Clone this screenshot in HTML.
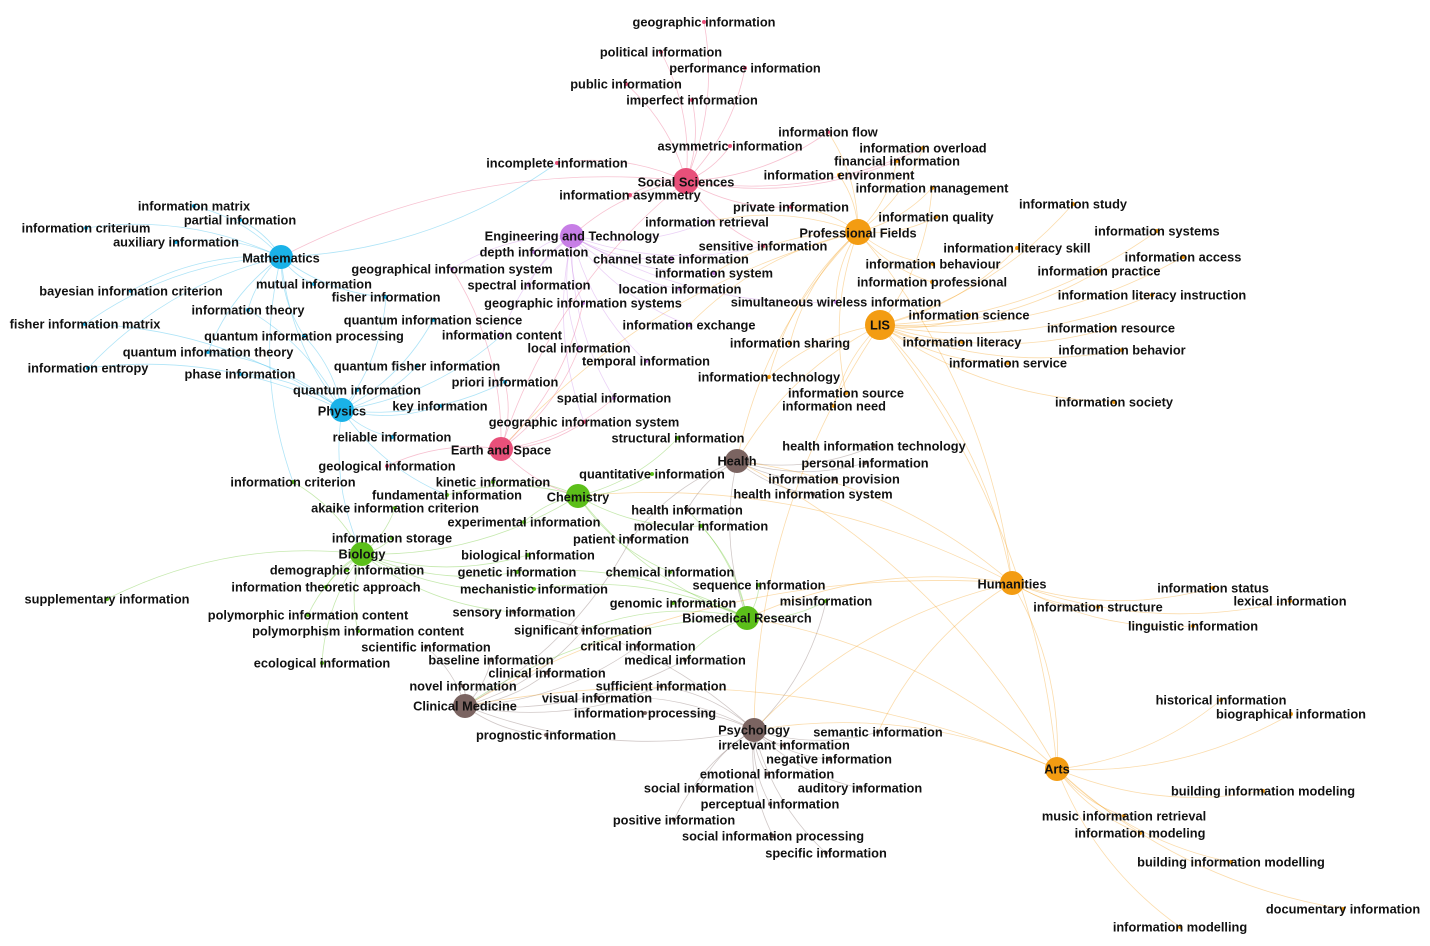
<!DOCTYPE html>
<html><head><meta charset="utf-8"><style>
html,body{margin:0;padding:0;background:#fff;}
svg{display:block;}
text{font-family:"Liberation Sans",Arial,sans-serif;font-weight:bold;font-size:12.8px;fill:#111;text-anchor:middle;dominant-baseline:central;}
</style></head><body>
<svg id="s" width="1430" height="946" viewBox="0 0 1430 946" xmlns="http://www.w3.org/2000/svg">
<g id="edges" fill="none" stroke-width="0.8"></g>
<g id="nodes"></g>
<g id="labels">
<text x="704" y="22">geographic information</text>
<text x="661" y="52">political information</text>
<text x="745" y="68">performance information</text>
<text x="626" y="84">public information</text>
<text x="692" y="100">imperfect information</text>
<text x="828" y="132">information flow</text>
<text x="730" y="146">asymmetric information</text>
<text x="923" y="148">information overload</text>
<text x="897" y="161">financial information</text>
<text x="557" y="163">incomplete information</text>
<text x="839" y="175">information environment</text>
<text x="686" y="182">Social Sciences</text>
<text x="932" y="188">information management</text>
<text x="630" y="195">information asymmetry</text>
<text x="791" y="207">private information</text>
<text x="1073" y="204">information study</text>
<text x="194" y="206">information matrix</text>
<text x="240" y="220">partial information</text>
<text x="86" y="228">information criterium</text>
<text x="176" y="242">auxiliary information</text>
<text x="281" y="258">Mathematics</text>
<text x="131" y="291">bayesian information criterion</text>
<text x="248" y="310">information theory</text>
<text x="85" y="324">fisher information matrix</text>
<text x="936" y="217">information quality</text>
<text x="707" y="222">information retrieval</text>
<text x="1157" y="231">information systems</text>
<text x="572" y="236">Engineering and Technology</text>
<text x="858" y="233">Professional Fields</text>
<text x="1017" y="248">information literacy skill</text>
<text x="763" y="246">sensitive information</text>
<text x="534" y="252">depth information</text>
<text x="1183" y="257">information access</text>
<text x="671" y="259">channel state information</text>
<text x="933" y="264">information behaviour</text>
<text x="452" y="269">geographical information system</text>
<text x="714" y="273">information system</text>
<text x="1099" y="271">information practice</text>
<text x="932" y="282">information professional</text>
<text x="314" y="284">mutual information</text>
<text x="529" y="285">spectral information</text>
<text x="680" y="289">location information</text>
<text x="386" y="297">fisher information</text>
<text x="1152" y="295">information literacy instruction</text>
<text x="583" y="303">geographic information systems</text>
<text x="836" y="302">simultaneous wireless information</text>
<text x="969" y="315">information science</text>
<text x="433" y="320">quantum information science</text>
<text x="1111" y="328">information resource</text>
<text x="689" y="325">information exchange</text>
<text x="880" y="325">LIS</text>
<text x="502" y="335">information content</text>
<text x="304" y="336">quantum information processing</text>
<text x="962" y="342">information literacy</text>
<text x="579" y="348">local information</text>
<text x="790" y="343">information sharing</text>
<text x="1122" y="350">information behavior</text>
<text x="208" y="352">quantum information theory</text>
<text x="1008" y="363">information service</text>
<text x="646" y="361">temporal information</text>
<text x="417" y="366">quantum fisher information</text>
<text x="88" y="368">information entropy</text>
<text x="240" y="374">phase information</text>
<text x="769" y="377">information technology</text>
<text x="505" y="382">priori information</text>
<text x="357" y="390">quantum information</text>
<text x="846" y="393">information source</text>
<text x="614" y="398">spatial information</text>
<text x="834" y="406">information need</text>
<text x="1114" y="402">information society</text>
<text x="440" y="406">key information</text>
<text x="342" y="411">Physics</text>
<text x="584" y="422">geographic information system</text>
<text x="392" y="437">reliable information</text>
<text x="678" y="438">structural information</text>
<text x="874" y="446">health information technology</text>
<text x="501" y="450">Earth and Space</text>
<text x="387" y="466">geological information</text>
<text x="737" y="461">Health</text>
<text x="865" y="463">personal information</text>
<text x="652" y="474">quantitative information</text>
<text x="493" y="482">kinetic information</text>
<text x="293" y="482">information criterion</text>
<text x="834" y="479">information provision</text>
<text x="447" y="495">fundamental information</text>
<text x="578" y="497">Chemistry</text>
<text x="813" y="494">health information system</text>
<text x="395" y="508">akaike information criterion</text>
<text x="687" y="510">health information</text>
<text x="701" y="526">molecular information</text>
<text x="524" y="522">experimental information</text>
<text x="392" y="538">information storage</text>
<text x="631" y="539">patient information</text>
<text x="362" y="554">Biology</text>
<text x="528" y="555">biological information</text>
<text x="347" y="570">demographic information</text>
<text x="517" y="572">genetic information</text>
<text x="670" y="572">chemical information</text>
<text x="326" y="587">information theoretic approach</text>
<text x="759" y="585">sequence information</text>
<text x="1012" y="584">Humanities</text>
<text x="1213" y="588">information status</text>
<text x="534" y="589">mechanistic information</text>
<text x="107" y="599">supplementary information</text>
<text x="826" y="601">misinformation</text>
<text x="673" y="603">genomic information</text>
<text x="1098" y="607">information structure</text>
<text x="1290" y="601">lexical information</text>
<text x="308" y="615">polymorphic information content</text>
<text x="514" y="612">sensory information</text>
<text x="747" y="618">Biomedical Research</text>
<text x="1193" y="626">linguistic information</text>
<text x="583" y="630">significant information</text>
<text x="358" y="631">polymorphism information content</text>
<text x="638" y="646">critical information</text>
<text x="426" y="647">scientific information</text>
<text x="322" y="663">ecological information</text>
<text x="491" y="660">baseline information</text>
<text x="685" y="660">medical information</text>
<text x="547" y="673">clinical information</text>
<text x="463" y="686">novel information</text>
<text x="661" y="686">sufficient information</text>
<text x="597" y="698">visual information</text>
<text x="1221" y="700">historical information</text>
<text x="465" y="706">Clinical Medicine</text>
<text x="1291" y="714">biographical information</text>
<text x="645" y="713">information processing</text>
<text x="754" y="730">Psychology</text>
<text x="878" y="732">semantic information</text>
<text x="546" y="735">prognostic information</text>
<text x="784" y="745">irrelevant information</text>
<text x="829" y="759">negative information</text>
<text x="1057" y="769">Arts</text>
<text x="767" y="774">emotional information</text>
<text x="699" y="788">social information</text>
<text x="860" y="788">auditory information</text>
<text x="1263" y="791">building information modeling</text>
<text x="770" y="804">perceptual information</text>
<text x="1124" y="816">music information retrieval</text>
<text x="674" y="820">positive information</text>
<text x="1140" y="833">information modeling</text>
<text x="773" y="836">social information processing</text>
<text x="826" y="853">specific information</text>
<text x="1231" y="862">building information modelling</text>
<text x="1343" y="909">documentary information</text>
<text x="1180" y="927">information modelling</text>
</g>
</svg>
<script>
var H={SS:[686,181,13,"#e8507a"],E:[572,236,12,"#c77ee6"],PF:[858,232,13,"#f39c12"],LIS:[880,325,15,"#f39c12"],
M:[281,257,12,"#1ab2e8"],P:[342,410,12,"#1ab2e8"],ES:[501,449,12,"#e8507a"],HE:[737,461,12,"#7b6461"],
C:[578,496,12,"#5cbf1a"],B:[362,554,12,"#5cbf1a"],HU:[1012,583,12,"#f39c12"],BR:[747,618,12,"#5cbf1a"],
CM:[465,706,12,"#7b6461"],PS:[754,730,12,"#7b6461"],A:[1057,769,12,"#f39c12"]};
var map={"geographic information":"SS","political information":"SS","performance information":"SS","public information":"SS","imperfect information":"SS","information flow":"SS PF","asymmetric information":"SS","information overload":"PF SS","financial information":"PF SS","incomplete information":"SS M","information environment":"PF","information management":"PF LIS","information asymmetry":"SS","private information":"SS PF","information study":"LIS","information matrix":"M","partial information":"M","information criterium":"M","auxiliary information":"M","bayesian information criterion":"M","information theory":"M P","fisher information matrix":"M P","information quality":"PF","information retrieval":"E PF","information systems":"LIS","information literacy skill":"LIS","sensitive information":"SS E","depth information":"E","information access":"LIS","channel state information":"E","information behaviour":"PF","geographical information system":"E ES","information system":"E PF","information practice":"LIS","information professional":"PF","mutual information":"M","spectral information":"E","location information":"E","fisher information":"M P","information literacy instruction":"LIS","geographic information systems":"E ES","simultaneous wireless information":"E PF","information science":"LIS","quantum information science":"P","information resource":"LIS","information exchange":"E PF","information content":"E P","quantum information processing":"P M","information literacy":"LIS","local information":"E ES","information sharing":"PF","information behavior":"LIS","quantum information theory":"P M","information service":"LIS","temporal information":"E","quantum fisher information":"P","information entropy":"P M","phase information":"P","information technology":"PF LIS","priori information":"P ES","quantum information":"P","information source":"PF","spatial information":"E ES","information need":"LIS","information society":"LIS","key information":"P","geographic information system":"ES E","reliable information":"P","structural information":"C","health information technology":"HE","geological information":"ES","personal information":"HE","quantitative information":"C","kinetic information":"C","information criterion":"B M","information provision":"HE","fundamental information":"C P","health information system":"HE","akaike information criterion":"B","health information":"HE BR","molecular information":"C BR","experimental information":"C","information storage":"B","patient information":"HE CM","biological information":"B","demographic information":"B","genetic information":"B BR","chemical information":"C","information theoretic approach":"B","sequence information":"BR","information status":"HU","mechanistic information":"B BR","supplementary information":"B","misinformation":"BR PS","genomic information":"BR","information structure":"HU","lexical information":"HU","polymorphic information content":"B","sensory information":"PS B","linguistic information":"HU","significant information":"CM BR","polymorphism information content":"B","critical information":"CM","scientific information":"CM","ecological information":"B","baseline information":"CM","medical information":"CM BR","clinical information":"CM","novel information":"CM","sufficient information":"CM PS","visual information":"PS","historical information":"A","biographical information":"A","information processing":"PS","semantic information":"PS HU","prognostic information":"CM","irrelevant information":"PS","negative information":"PS","emotional information":"PS","social information":"PS","auditory information":"PS","building information modeling":"A","perceptual information":"PS","music information retrieval":"A","positive information":"PS","information modeling":"A","social information processing":"PS","specific information":"PS","building information modelling":"A","documentary information":"A","information modelling":"A"};
var eg=document.getElementById("edges"),ng=document.getElementById("nodes"),NS="http://www.w3.org/2000/svg";
function edge(x1,y1,x2,y2,col){var dx=x2-x1,dy=y2-y1,mx=(x1+x2)/2-dy*0.15,my=(y1+y2)/2+dx*0.15;
var p=document.createElementNS(NS,"path");p.setAttribute("d","M"+x1+" "+y1+" Q"+mx+" "+my+" "+x2+" "+y2);
p.setAttribute("stroke",col);p.setAttribute("stroke-opacity","0.35");eg.appendChild(p);}
var ts=document.querySelectorAll("#labels text");
ts.forEach(function(t){var k=map[t.textContent];if(!k)return;var x=+t.getAttribute("x"),y=+t.getAttribute("y");
k.split(" ").forEach(function(h){var n=H[h];edge(n[0],n[1],x,y,n[3]);});
var d=document.createElementNS(NS,"circle");d.setAttribute("cx",x);d.setAttribute("cy",y);d.setAttribute("r",2);d.setAttribute("fill",H[k.split(" ")[0]][3]);ng.appendChild(d);});
var hh=[["HU","PS"],["HU","HE"],["HU","LIS"],["HU","PF"],["A","PS"],["A","HU"],["A","CM"],["A","LIS"],["HU","BR"],["HU","CM"],["A","HE"],["LIS","PS"],["LIS","HE"],["PF","HE"],["SS","M"],["SS","E"],["M","P"],["P","B"],["B","C"],["C","BR"],["BR","CM"],["CM","PS"],["ES","C"],["HE","BR"],["HU","C"],["A","BR"],["PF","ES"],["SS","ES"]];
hh.forEach(function(e){var a=H[e[0]],b=H[e[1]];edge(a[0],a[1],b[0],b[1],a[3]);});
for(var k in H){var n=H[k];var c=document.createElementNS(NS,"circle");c.setAttribute("cx",n[0]);c.setAttribute("cy",n[1]);c.setAttribute("r",n[2]);c.setAttribute("fill",n[3]);ng.appendChild(c);}
</script>
</body></html>
